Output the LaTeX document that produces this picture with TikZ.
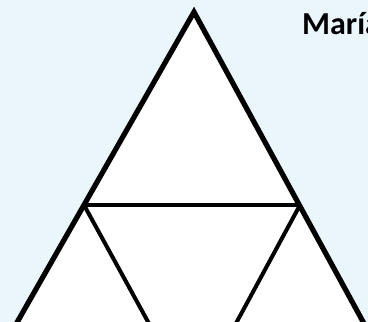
\documentclass[tikz,border=0pt]{standalone}
\usepackage{fontspec}
\setmainfont{Carlito}
\definecolor{paleblue}{HTML}{EBF6FC}
\begin{document}
\begin{tikzpicture}[x=1pt,y=-1pt]
\tikzset{outer/.style={line width=5.2pt, line join=miter},
  inner/.style={line width=4pt}}
\useasboundingbox (0,0) rectangle (368,322);
\clip (0,0) rectangle (368,322);
\fill[paleblue] (0,0) rectangle (368,322);
\coordinate (apex) at (194,12);
\coordinate (bl) at (7,340);
\coordinate (br) at (373,340);
\coordinate (ml) at (84,205);
\coordinate (mr) at (300,205);
\coordinate (il) at (158,340);
\coordinate (ir) at (227,340);
\fill[white] (apex) -- (bl) -- (br) -- cycle;
\draw[outer] (bl) -- (apex) -- (br);
\draw[inner] (ml) -- (mr);
\draw[inner] (ml) -- (il);
\draw[inner] (mr) -- (ir);
\node[anchor=base west, inner sep=0pt, font=\bfseries\fontsize{32}{36}\selectfont] (name) at (302,34) {María};
\end{tikzpicture}
\end{document}
